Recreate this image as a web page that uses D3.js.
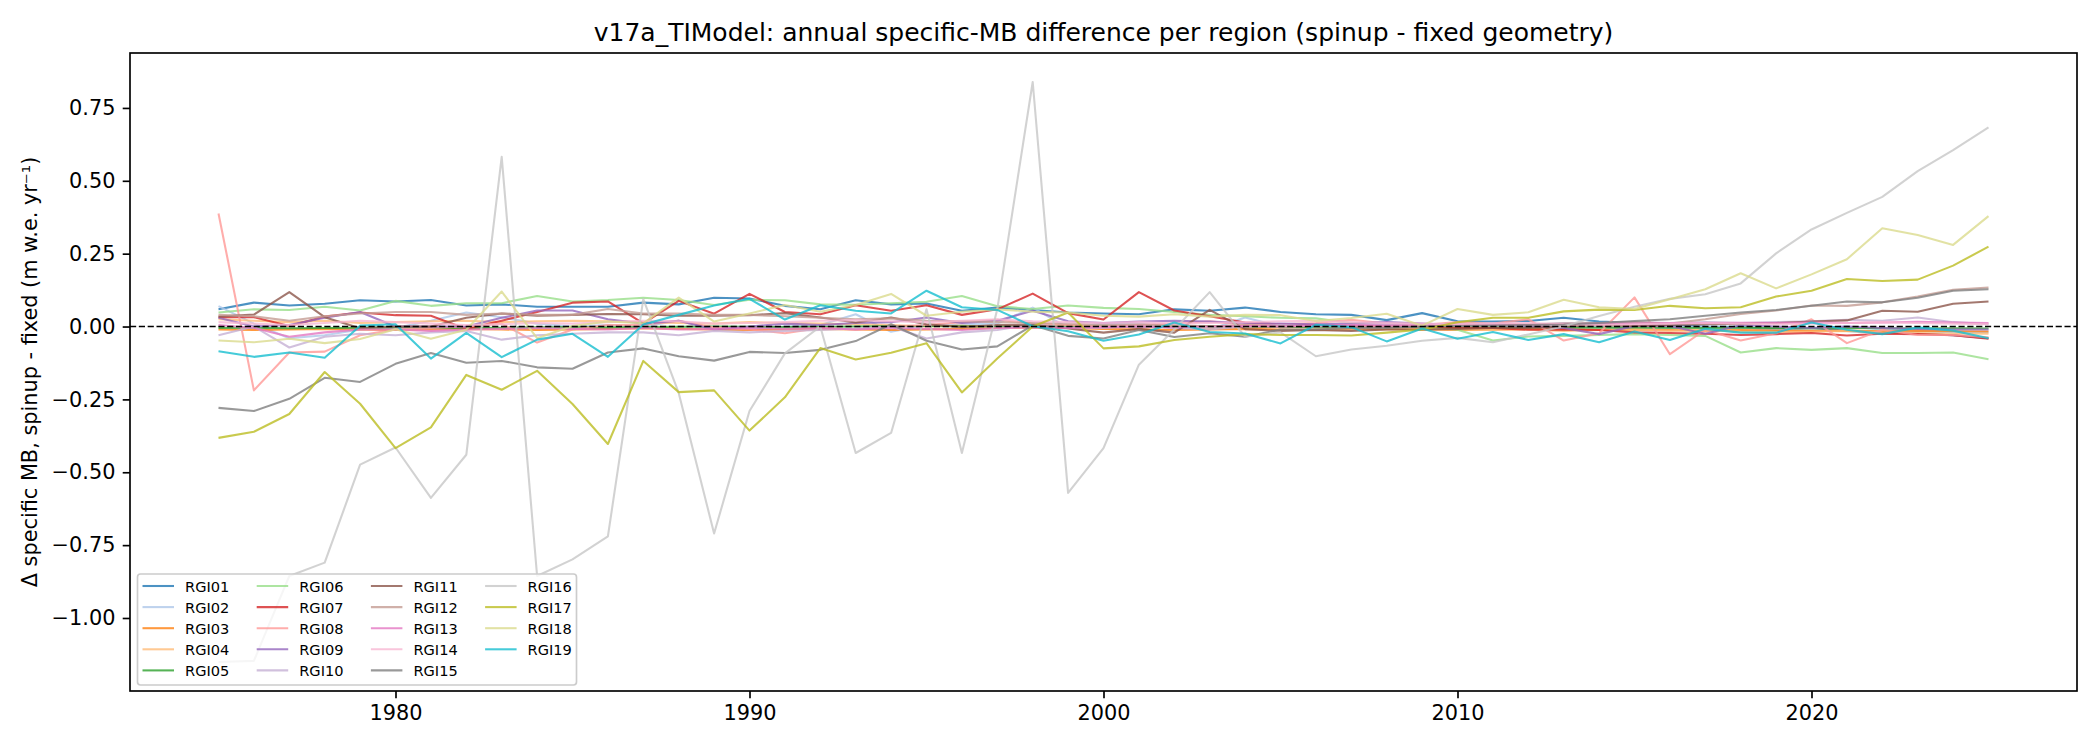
<!DOCTYPE html>
<html>
<head>
<meta charset="utf-8">
<script src="https://cdn.jsdelivr.net/npm/d3@7"></script>
<style>
body{margin:0;background:#fff;}
svg{display:block;font-family:"DejaVu Sans",sans-serif;}
</style>
</head>
<body>
<svg id="chart"></svg>
<script>
// annual specific-MB difference per region, spinup minus fixed geometry (m w.e. / yr)
var years = [1975,1976,1977,1978,1979,1980,1981,1982,1983,1984,1985,1986,1987,1988,1989,1990,1991,1992,1993,1994,1995,1996,1997,1998,1999,2000,
   2001,2002,2003,2004,2005,2006,2007,2008,2009,2010,2011,2012,2013,2014,2015,2016,2017,2018,2019,2020,2021,2022,2023,2024,2025];

var regions = ["RGI01","RGI02","RGI03","RGI04","RGI05","RGI06","RGI07","RGI08","RGI09","RGI10",
   "RGI11","RGI12","RGI13","RGI14","RGI15","RGI16","RGI17","RGI18","RGI19"];

var rgi01 = [0.059,0.082,0.072,0.078,0.09,0.086,0.091,0.072,0.076,0.068,0.068,0.068,0.082,0.076,0.099,0.096,0.071,0.059,0.09,0.076,0.079,0.054,0.065,0.057,0.048,0.045,
   0.042,0.059,0.054,0.065,0.05,0.042,0.04,0.022,0.046,0.018,0.017,0.019,0.03,0.017,0.013,0.005,0.0,-0.002,-0.01,-0.005,-0.015,-0.02,-0.025,-0.03,-0.04];
var rgi02 = [0.07,0.01,-0.04,-0.03,-0.01,-0.005,0.02,0.048,0.032,0.01,0.0,0.005,0.0,0.02,-0.01,-0.01,0.0,0.005,0.042,-0.018,0.005,0.008,0.01,0.065,-0.005,0.01,
   0.01,-0.005,-0.01,0.031,0.0,0.005,0.0,0.008,0.005,0.01,0.005,0.0,-0.005,0.0,-0.01,-0.005,0.0,-0.005,-0.01,-0.005,0.0,-0.01,-0.015,-0.02,-0.02];
var rgi03 = [-0.01,-0.012,-0.01,-0.008,-0.01,-0.012,-0.01,-0.008,-0.01,-0.012,-0.01,-0.008,-0.006,-0.008,-0.01,-0.012,-0.01,-0.008,-0.01,-0.012,-0.01,-0.008,-0.005,-0.003,-0.005,-0.008,
   -0.01,-0.012,-0.01,-0.008,-0.01,-0.012,-0.01,-0.008,-0.01,-0.012,-0.01,-0.008,-0.01,-0.012,-0.01,-0.012,-0.014,-0.012,-0.014,-0.015,-0.014,-0.016,-0.015,-0.016,-0.017];
var rgi04 = [0.025,0.02,0.015,0.02,0.012,0.015,0.018,0.02,0.015,0.018,0.02,0.018,0.015,0.012,0.01,0.015,0.012,0.01,0.008,0.005,0.0,0.003,-0.005,0.0,0.005,0.0,
   -0.005,0.0,0.002,-0.003,0.0,-0.005,-0.008,-0.005,-0.01,-0.008,-0.012,-0.01,-0.015,-0.012,-0.01,-0.015,-0.012,-0.018,-0.02,-0.018,-0.015,-0.02,-0.022,-0.025,-0.025];
var rgi05 = [-0.005,-0.004,-0.006,-0.005,-0.004,-0.003,-0.004,-0.005,-0.004,-0.003,-0.002,-0.003,-0.002,-0.001,0.0,-0.001,-0.002,-0.001,0.0,0.001,0.002,0.001,0.0,0.0,0.001,0.0,
   -0.001,0.0,0.001,0.0,-0.001,-0.002,-0.001,0.0,-0.001,-0.002,-0.003,-0.002,-0.003,-0.004,-0.003,-0.004,-0.005,-0.004,-0.005,-0.006,-0.005,-0.006,-0.007,-0.006,-0.007];
var rgi06 = [0.048,0.059,0.057,0.068,0.055,0.088,0.071,0.08,0.08,0.105,0.086,0.091,0.099,0.091,0.074,0.092,0.09,0.076,0.075,0.08,0.085,0.105,0.07,0.06,0.072,0.064,
   0.06,0.05,0.04,0.035,0.03,0.028,0.012,0.011,0.0,-0.011,-0.048,-0.034,-0.032,-0.029,-0.026,-0.029,-0.032,-0.089,-0.074,-0.08,-0.074,-0.091,-0.091,-0.089,-0.112];
var rgi07 = [0.032,0.032,0.002,0.034,0.048,0.039,0.037,-0.008,0.02,0.05,0.082,0.086,0.011,0.088,0.044,0.112,0.05,0.042,0.073,0.054,0.073,0.04,0.059,0.113,0.046,0.024,
   0.118,0.055,0.035,0.014,0.008,0.005,0.003,0.0,0.002,-0.005,-0.005,-0.011,-0.01,-0.012,-0.02,-0.022,-0.025,-0.029,-0.026,-0.022,-0.031,-0.025,-0.026,-0.03,-0.042];
var rgi08 = [0.388,-0.219,-0.089,-0.086,-0.03,-0.01,-0.005,0.0,0.01,-0.055,-0.01,0.005,0.005,0.02,-0.003,-0.01,-0.023,-0.005,-0.01,0.0,0.005,0.015,0.023,0.01,0.005,0.0,
   0.005,0.01,0.018,0.005,0.008,0.012,0.023,0.01,0.005,0.015,0.01,0.025,-0.048,-0.023,0.1,-0.095,-0.011,-0.048,-0.023,0.025,-0.057,-0.011,-0.029,-0.029,-0.037];
var rgi09 = [0.03,0.0,0.005,0.03,0.05,0.0,0.0,0.0,0.03,0.055,0.055,0.025,0.01,0.02,-0.01,0.0,0.01,0.005,0.012,0.015,0.031,0.012,0.02,0.054,0.018,0.012,
   0.017,0.02,0.017,0.012,0.01,0.008,0.01,0.015,0.01,0.005,0.005,0.0,-0.005,-0.026,0.002,0.002,-0.025,0.005,0.0,-0.005,0.0,-0.005,-0.008,-0.01,-0.01];
var rgi10 = [-0.03,0.0,-0.072,-0.035,-0.025,-0.03,-0.02,-0.015,-0.045,-0.03,-0.025,-0.02,-0.02,-0.03,-0.015,-0.02,-0.015,-0.012,-0.007,0.0,-0.041,-0.02,-0.012,0.008,-0.005,-0.005,
   0.0,-0.005,-0.01,0.0,0.005,0.0,0.005,0.01,0.005,0.008,0.01,0.005,0.012,0.01,0.015,0.012,0.015,0.012,0.015,0.018,0.023,0.02,0.031,0.015,0.008];
var rgi11 = [0.034,0.041,0.118,0.032,-0.006,0.0,0.0,0.03,0.045,0.037,0.04,0.043,0.042,0.037,0.037,0.039,0.046,0.031,0.014,0.031,0.008,-0.002,0.005,0.005,-0.007,-0.021,
   -0.008,-0.021,0.057,-0.009,-0.015,-0.012,-0.015,-0.01,-0.01,-0.008,-0.005,-0.005,0.0,0.005,0.002,0.005,0.008,0.01,0.012,0.017,0.021,0.054,0.051,0.078,0.086];
var rgi12 = [0.04,0.035,0.02,0.035,0.045,0.05,0.05,0.04,0.045,0.04,0.04,0.06,0.045,0.045,0.04,0.04,0.035,0.03,0.025,0.028,0.02,0.018,0.015,0.012,0.01,0.005,
   0.008,0.005,0.0,0.005,0.0,0.002,-0.002,0.0,0.005,0.003,0.005,0.008,0.01,0.012,0.015,0.01,0.025,0.043,0.055,0.072,0.071,0.083,0.103,0.126,0.134];
var rgi13 = [0.005,-0.005,-0.035,-0.02,-0.01,-0.01,-0.015,-0.01,-0.008,-0.005,-0.008,-0.01,-0.005,-0.01,-0.008,-0.005,-0.008,-0.005,-0.01,-0.005,-0.008,-0.012,-0.005,-0.003,-0.005,-0.002,
   0.0,-0.003,0.0,0.002,0.0,0.003,0.005,0.003,0.005,0.006,0.008,0.005,0.008,0.01,0.01,0.012,0.012,0.013,0.012,0.014,0.012,0.014,0.016,0.014,0.012];
var rgi14 = [0.015,0.01,0.005,0.012,0.02,0.015,0.01,0.005,0.008,0.012,0.01,0.015,0.02,0.018,0.01,0.012,0.015,0.02,0.022,0.018,0.015,0.02,0.025,0.018,0.015,0.012,
   0.015,0.01,0.012,0.015,0.018,0.02,0.015,0.012,0.01,0.008,0.01,0.012,0.008,0.005,0.008,0.01,0.012,0.01,0.008,0.01,0.012,0.015,0.012,0.01,0.008];
var rgi15 = [-0.279,-0.29,-0.248,-0.176,-0.19,-0.128,-0.091,-0.124,-0.118,-0.14,-0.145,-0.089,-0.075,-0.102,-0.117,-0.087,-0.091,-0.08,-0.05,0.008,-0.049,-0.079,-0.068,0.004,-0.032,-0.041,
   -0.012,-0.036,-0.023,-0.035,-0.01,-0.01,-0.005,-0.005,0.0,0.002,0.003,0.005,0.007,0.012,0.019,0.025,0.037,0.048,0.057,0.071,0.086,0.083,0.099,0.123,0.128];
var rgi16 = [-1.151,-1.147,-0.856,-0.81,-0.474,-0.415,-0.588,-0.44,0.582,-0.856,-0.799,-0.72,0.094,-0.228,-0.71,-0.29,-0.092,0.0,-0.434,-0.365,0.059,-0.434,0.06,0.839,-0.571,-0.417,
   -0.131,-0.01,0.118,-0.035,-0.02,-0.102,-0.079,-0.066,-0.049,-0.039,-0.054,-0.027,0.001,0.036,0.068,0.095,0.111,0.148,0.251,0.333,0.39,0.445,0.533,0.605,0.683];
var rgi17 = [-0.382,-0.361,-0.3,-0.156,-0.265,-0.417,-0.346,-0.166,-0.217,-0.152,-0.266,-0.403,-0.118,-0.225,-0.219,-0.357,-0.243,-0.074,-0.113,-0.09,-0.057,-0.226,-0.11,0.0,0.048,-0.075,
   -0.068,-0.046,-0.035,-0.026,-0.029,-0.029,-0.031,-0.021,-0.01,0.015,0.03,0.03,0.052,0.058,0.057,0.071,0.063,0.066,0.103,0.123,0.163,0.156,0.161,0.209,0.274];
var rgi18 = [-0.048,-0.054,-0.042,-0.057,-0.043,-0.009,-0.042,-0.011,0.12,-0.04,0.002,0.017,0.011,0.099,0.017,0.045,0.074,0.051,0.074,0.112,0.037,0.051,0.059,0.051,0.048,0.037,
   0.034,0.042,0.034,0.04,0.039,0.019,0.029,0.044,0.003,0.06,0.04,0.049,0.092,0.066,0.06,0.094,0.128,0.183,0.131,0.179,0.231,0.337,0.314,0.28,0.379];
var rgi19 = [-0.085,-0.104,-0.089,-0.107,0.003,0.008,-0.11,-0.022,-0.105,-0.045,-0.025,-0.104,0.007,0.04,0.072,0.095,0.024,0.073,0.054,0.045,0.123,0.066,0.057,0.001,-0.016,-0.049,
   -0.027,0.014,-0.019,-0.024,-0.058,0.006,-0.002,-0.051,-0.007,-0.042,-0.019,-0.046,-0.026,-0.054,-0.017,-0.046,-0.008,-0.021,-0.021,0.014,-0.011,-0.026,-0.003,-0.014,-0.04];

var series = [rgi01,rgi02,rgi03,rgi04,rgi05,rgi06,rgi07,rgi08,rgi09,rgi10,
   rgi11,rgi12,rgi13,rgi14,rgi15,rgi16,rgi17,rgi18,rgi19];

var xTicks = [1980,1990,2000,2010,2020];
var yTicks = [0.75,0.5,0.25,0,-0.25,-0.5,-0.75,-1.0];

// tab20 colours, one per region
var color = d3.scaleOrdinal()
   .domain(regions)
   .range(["#1f77b4","#aec7e8","#ff7f0e","#ffbb78","#2ca02c","#98df8a","#d62728","#ff9896","#9467bd","#c5b0d5",
      "#8c564b","#c49c94","#e377c2","#f7b6d2","#7f7f7f","#c7c7c7","#bcbd22","#dbdb8d","#17becf"]);

var svgWidth=2100,svgHeight=750;
var plotL=130,plotR=2077,plotT=53,plotB=691;
var pt=150/72;  // figure was drawn at 150 dpi

var svg=d3.select("#chart")
   .attr("width",svgWidth)
   .attr("height",svgHeight);

// matplotlib style 5% margins on both axes
var xExt=d3.extent(years);
var xPad=(xExt[1]-xExt[0])*0.05;
var allVals=d3.merge(series);
var yExt=d3.extent(allVals);
var yPad=(yExt[1]-yExt[0])*0.05;

var x=d3.scaleLinear()
   .domain([xExt[0]-xPad,xExt[1]+xPad])
   .range([plotL,plotR]);

var y=d3.scaleLinear()
   .domain([yExt[0]-yPad,yExt[1]+yPad])
   .range([plotB,plotT]);

svg.append("defs").append("clipPath")
   .attr("id","plotclip")
   .append("rect")
   .attr("x",plotL)
   .attr("y",plotT)
   .attr("width",plotR-plotL)
   .attr("height",plotB-plotT);

var line=d3.line()
   .x(function(d,i){ return x(years[i]); })
   .y(function(d){ return y(d); });

var plot=svg.append("g")
   .attr("clip-path","url(#plotclip)");

plot.selectAll("path.series")
   .data(series)
   .enter()
   .append("path")
   .attr("class","series")
   .attr("d",line)
   .attr("fill","none")
   .attr("stroke",function(d,i){ return color(regions[i]); })
   .attr("stroke-opacity",0.8)
   .attr("stroke-width",1*pt)
   .attr("stroke-linejoin","round");

// zero reference line
plot.append("line")
   .attr("x1",plotL)
   .attr("x2",plotR)
   .attr("y1",y(0))
   .attr("y2",y(0))
   .attr("stroke","#000")
   .attr("stroke-width",0.8*pt)
   .attr("stroke-dasharray",(3.7*0.8*pt)+","+(1.6*0.8*pt));

// axes
var xAxis=d3.axisBottom(x)
   .tickValues(xTicks)
   .tickFormat(d3.format("d"))
   .tickSize(3.5*pt)
   .tickPadding(3.5*pt);

var yAxis=d3.axisLeft(y)
   .tickValues(yTicks)
   .tickFormat(d3.format(".2f"))
   .tickSize(3.5*pt)
   .tickPadding(3.5*pt);

var gx=svg.append("g")
   .attr("transform","translate(0,"+plotB+")")
   .call(xAxis);

var gy=svg.append("g")
   .attr("transform","translate("+plotL+",0)")
   .call(yAxis);

[gx,gy].forEach(function(g){
   g.select(".domain").remove();
   g.selectAll(".tick line").attr("stroke","#000").attr("stroke-width",0.8*pt);
   g.selectAll(".tick text")
      .attr("fill","#000")
      .attr("font-size",10*pt)
      .attr("font-family","DejaVu Sans");
});

svg.append("rect")
   .attr("x",plotL)
   .attr("y",plotT)
   .attr("width",plotR-plotL)
   .attr("height",plotB-plotT)
   .attr("fill","none")
   .attr("stroke","#000")
   .attr("stroke-width",0.8*pt);

svg.append("text")
   .attr("x",(plotL+plotR)/2)
   .attr("y",plotT-6*pt)
   .attr("text-anchor","middle")
   .attr("font-size",12*pt)
   .attr("fill","#000")
   .text("v17a_TIModel: annual specific-MB difference per region (spinup - fixed geometry)");

svg.append("text")
   .attr("transform","translate(37,"+((plotT+plotB)/2)+") rotate(-90)")
   .attr("text-anchor","middle")
   .attr("font-size",10*pt)
   .attr("fill","#000")
   .text("\u0394 specific MB, spinup - fixed (m w.e. yr\u207b\u00b9)");

// legend, 4 columns x 5 rows, lower left
var legX=137.5,legY=574,legW=439,legH=111;
var colStep=114.2,rowStep=21.1;

var leg=svg.append("g");

leg.append("rect")
   .attr("x",legX)
   .attr("y",legY)
   .attr("width",legW)
   .attr("height",legH)
   .attr("rx",3)
   .attr("fill","#fff")
   .attr("fill-opacity",0.8)
   .attr("stroke","#cccccc")
   .attr("stroke-width",0.8*pt);

var item=leg.selectAll("g.item")
   .data(regions)
   .enter()
   .append("g")
   .attr("class","item")
   .attr("transform",function(d,i){
      var col=Math.floor(i/5),row=i%5;
      return "translate("+(legX+colStep*col)+","+(legY+12+rowStep*row)+")";
   });

item.append("line")
   .attr("x1",5)
   .attr("x2",36.5)
   .attr("y1",0)
   .attr("y2",0)
   .attr("stroke",function(d){ return color(d); })
   .attr("stroke-opacity",0.8)
   .attr("stroke-width",1*pt);

item.append("text")
   .attr("x",47.5)
   .attr("dy","0.38em")
   .attr("font-size",7*pt)
   .attr("fill","#000")
   .text(function(d){ return d; });
</script>
</body>
</html>
